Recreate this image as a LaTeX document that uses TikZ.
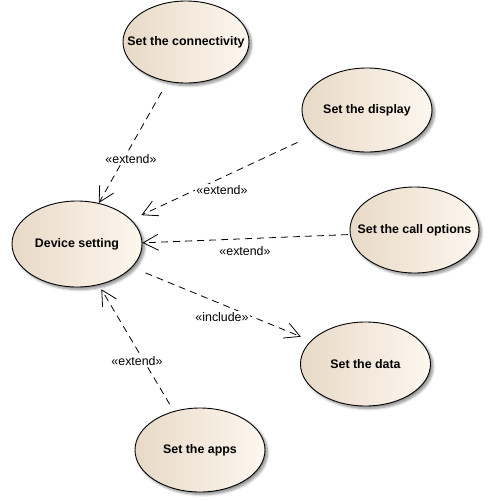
\documentclass[tikz,border=0pt]{standalone}
\usepackage{fontspec}
\setmainfont{Liberation Sans}
\usetikzlibrary{arrows.meta,shapes.geometric,shadows.blur}
\newcommand{\uctext}[1]{\makebox[0pt][c]{#1}}
\begin{document}
\begin{tikzpicture}[x=1pt,y=-1pt,
  usecase/.style={ellipse, draw=black, line width=0.9pt, inner sep=0pt,
    minimum width=130pt, minimum height=84pt,
    left color=ucdark, right color=uclight,
    blur shadow={shadow xshift=2.5pt, shadow yshift=-2.5pt, shadow blur radius=2.5pt, shadow blur steps=6, shadow opacity=45},
    font=\fontsize{12.4}{14}\selectfont\bfseries},
  dep/.style={line width=0.8pt, dash pattern=on 7pt off 5pt,
    -{Straight Barb[length=15pt,width=16pt]}},
  deplabel/.style={fill=white, inner sep=1pt, font=\fontsize{12.4}{14}\selectfont}]
\definecolor{ucdark}{HTML}{E8D9C6}
\definecolor{uclight}{HTML}{FDF7EF}
\useasboundingbox (0,0) rectangle (489,501);
\node[usecase, minimum height=86pt] (dev) at (77,244) {\uctext{Device setting}};
\node[usecase, minimum width=126pt, minimum height=82pt] (conn) at (186,42) {\uctext{Set the connectivity}};
\node[usecase] (disp) at (367,110) {\uctext{Set the display}};
\node[usecase, minimum height=86pt, minimum width=129pt] (call) at (414.5,230) {\uctext{Set the call options}};
\node[usecase] (data) at (365.5,364) {\uctext{Set the data}};
\node[usecase] (apps) at (200,450) {\uctext{Set the apps}};
\draw[dep, shorten <=12pt] (conn.245) -- (dev.62);
\draw[dep, shorten <=18pt, shorten >=11pt] (disp.205) -- (dev.24);
\draw[dep, shorten <=2pt] (call.184) -- (dev.1);
\draw[dep, shorten <=14.5pt, shorten >=10.7pt] (dev.-23) -- (data.157);
\draw[dep, shorten <=8pt, shorten >=5pt] (apps.124) -- (dev.-62);
\node[deplabel] (l1) at (131,159) {«extend»};
\node[deplabel] (l2) at (222,190) {«extend»};
\node[deplabel] (l3) at (245,251) {«extend»};
\node[deplabel] (l4) at (222,317) {«include»};
\node[deplabel] (l5) at (137,361) {«extend»};
\end{tikzpicture}
\end{document}
